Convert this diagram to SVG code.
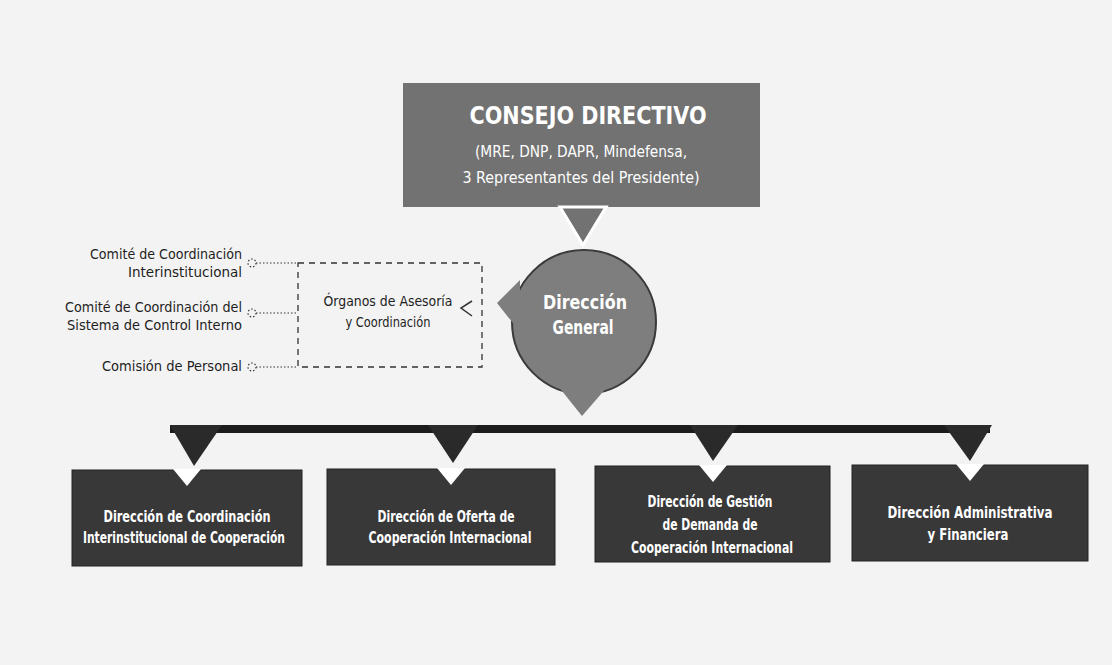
<svg xmlns="http://www.w3.org/2000/svg" width="1112" height="665" viewBox="0 0 1112 665">
<style>
.t{font-family:'DejaVu Sans Condensed','Liberation Sans Narrow','Liberation Sans',sans-serif;}
.w{fill:#ffffff;font-weight:bold;}
.k{fill:#1e1e1e;font-size:14px;}
.box{fill:#383838;stroke:#222;stroke-width:1;}
.notch{fill:#ffffff;}
.dash{fill:none;stroke:#333;stroke-width:1.3;stroke-dasharray:6 5;}
.dot{fill:none;stroke:#333;stroke-width:1.2;stroke-dasharray:1.5 2;}
.tri{fill:#2a2a2a;}
</style>
<rect x="0" y="0" width="1112" height="665" fill="#f3f3f3"/>

<g id="consejo">
  <rect x="403" y="83" width="357" height="124" fill="#727272"/>
  <text class="t w" x="588" y="124" font-size="25" text-anchor="middle" textLength="237" lengthAdjust="spacingAndGlyphs">CONSEJO DIRECTIVO</text>
  <text class="t" x="581" y="157" font-size="16" fill="#ffffff" text-anchor="middle" textLength="212" lengthAdjust="spacingAndGlyphs">(MRE, DNP, DAPR, Mindefensa,</text>
  <text class="t" x="581" y="183" font-size="16" fill="#ffffff" text-anchor="middle" textLength="237" lengthAdjust="spacingAndGlyphs">3 Representantes del Presidente)</text>
</g>

<g id="direccion-general">
  <circle cx="584" cy="322" r="72" fill="#7e7e7e" stroke="#3a3a3a" stroke-width="2"/>
  <polygon points="520,280 497,303 520,332" fill="#7e7e7e"/>
  <polygon points="558,386 582,416 608,386" fill="#7e7e7e"/>
  <text class="t w" x="585" y="309" font-size="19" text-anchor="middle" textLength="84" lengthAdjust="spacingAndGlyphs">Dirección</text>
  <text class="t w" x="583" y="334" font-size="19" text-anchor="middle" textLength="61" lengthAdjust="spacingAndGlyphs">General</text>
</g>

<g id="organos">
  <rect class="dash" x="298" y="263" width="184" height="104"/>
  <text class="t k" x="388" y="306" font-size="15" text-anchor="middle" textLength="129" lengthAdjust="spacingAndGlyphs">Órganos de Asesoría</text>
  <text class="t k" x="388" y="327" font-size="15" text-anchor="middle" textLength="85" lengthAdjust="spacingAndGlyphs">y Coordinación</text>
</g>

<g id="comite-interinstitucional">
  <text class="t k" x="242" y="259" text-anchor="end" textLength="152" lengthAdjust="spacingAndGlyphs">Comité de Coordinación</text>
  <text class="t k" x="242" y="277" text-anchor="end" textLength="114" lengthAdjust="spacingAndGlyphs">Interinstitucional</text>
  <circle class="dot" cx="252" cy="263" r="4"/>
</g>
<g id="comite-control-interno">
  <text class="t k" x="242" y="312" text-anchor="end" textLength="177" lengthAdjust="spacingAndGlyphs">Comité de Coordinación del</text>
  <text class="t k" x="242" y="330" text-anchor="end" textLength="175" lengthAdjust="spacingAndGlyphs">Sistema de Control Interno</text>
  <circle class="dot" cx="252" cy="313" r="4"/>
</g>
<g id="comision-personal">
  <text class="t k" x="242" y="371" text-anchor="end" textLength="140" lengthAdjust="spacingAndGlyphs">Comisión de Personal</text>
  <circle class="dot" cx="252" cy="367" r="4"/>
</g>

<g id="dir-coordinacion">
  <rect class="box" x="72" y="470" width="230" height="96"/>
  <polygon class="notch" points="173,469 201,469 187,486"/>
  <text class="t w" x="187" y="522" font-size="16" text-anchor="middle" textLength="167" lengthAdjust="spacingAndGlyphs">Dirección de Coordinación</text>
  <text class="t w" x="184" y="543" font-size="16" text-anchor="middle" textLength="202" lengthAdjust="spacingAndGlyphs">Interinstitucional de Cooperación</text>
</g>
<g id="dir-oferta">
  <rect class="box" x="327" y="469" width="228" height="96"/>
  <polygon class="notch" points="437,468 465,468 451,485"/>
  <text class="t w" x="446" y="522" font-size="16" text-anchor="middle" textLength="137" lengthAdjust="spacingAndGlyphs">Dirección de Oferta de</text>
  <text class="t w" x="450" y="543" font-size="16" text-anchor="middle" textLength="163" lengthAdjust="spacingAndGlyphs">Cooperación Internacional</text>
</g>
<g id="dir-gestion-demanda">
  <rect class="box" x="595" y="466" width="235" height="96"/>
  <polygon class="notch" points="699,465 727,465 713,482"/>
  <text class="t w" x="710" y="507" font-size="16" text-anchor="middle" textLength="125" lengthAdjust="spacingAndGlyphs">Dirección de Gestión</text>
  <text class="t w" x="710" y="530" font-size="16" text-anchor="middle" textLength="95" lengthAdjust="spacingAndGlyphs">de Demanda de</text>
  <text class="t w" x="712" y="553" font-size="16" text-anchor="middle" textLength="162" lengthAdjust="spacingAndGlyphs">Cooperación Internacional</text>
</g>
<g id="dir-administrativa">
  <rect class="box" x="852" y="465" width="236" height="96"/>
  <polygon class="notch" points="956,464 984,464 970,481"/>
  <text class="t w" x="970" y="518" font-size="16" text-anchor="middle" textLength="165" lengthAdjust="spacingAndGlyphs">Dirección Administrativa</text>
  <text class="t w" x="968" y="540" font-size="16" text-anchor="middle" textLength="81" lengthAdjust="spacingAndGlyphs">y Financiera</text>
</g>

<g id="connectors">
  <polygon points="560,207 606,207 583,245" fill="#727272" stroke="#ffffff" stroke-width="3" stroke-linejoin="miter"/>
  <rect x="170" y="425" width="820" height="8" fill="#1c1c1c"/>
  <polygon class="tri" points="170,425 222,425 194,466"/>
  <polygon class="tri" points="428,425 478,425 453,463"/>
  <polygon class="tri" points="690,425 738,425 713,461"/>
  <polygon class="tri" points="944,425 992,425 970,461"/>
  <line class="dot" x1="256" y1="263" x2="298" y2="263"/>
  <line class="dot" x1="256" y1="313" x2="298" y2="313"/>
  <line class="dot" x1="256" y1="367" x2="298" y2="367"/>
  <polyline points="472,301 461,308 472,316" fill="none" stroke="#333" stroke-width="1.5"/>
</g>
</svg>
